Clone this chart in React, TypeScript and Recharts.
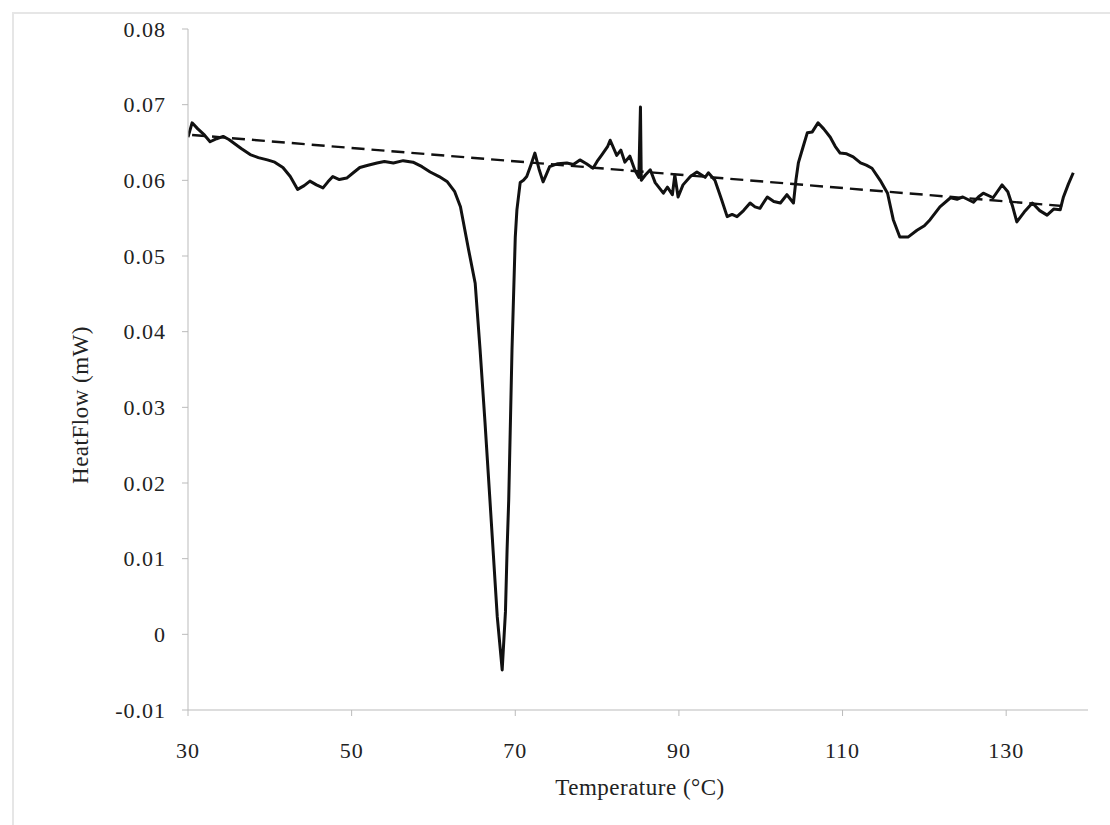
import { Line, LineChart, XAxis, YAxis } from 'recharts';

// DSC trace: temperature (°C) and heat flow (mW)
const temps = [
  30.0, 30.5, 31.2, 32.0, 32.7, 33.5, 34.3, 35.0, 35.5, 36.5, 37.6, 38.6, 39.7, 40.6, 41.6, 42.5, 43.4, 44.2, 44.9, 45.7,
  46.5, 47.1, 47.7, 48.5, 49.4, 50.2, 51.0, 52.0, 53.1, 54.0, 55.1, 56.3, 57.5, 58.6, 59.6, 60.7, 61.7, 62.6, 63.3, 64.3,
  65.1, 65.7, 66.3, 66.9, 67.8, 68.4, 68.8, 69.0, 69.2, 69.6, 70.0, 70.2, 70.6, 71.0, 71.4, 71.9, 72.4, 72.9, 73.4, 73.8,
  74.2, 75.2, 76.3, 77.1, 77.9, 78.7, 79.5, 80.0, 80.6, 81.3, 81.6, 82.4, 82.9, 83.4, 84.0, 84.6, 85.1, 85.3, 85.4, 85.9,
  86.5, 87.1, 88.1, 88.6, 89.2, 89.5, 89.9, 90.5, 91.4, 92.2, 93.2, 93.6, 94.4, 95.2, 95.9, 96.5, 97.1, 97.9, 98.7, 99.3,
  99.9, 100.8, 101.6, 102.4, 103.2, 104.0, 104.3, 104.6, 105.2, 105.7, 106.3, 107.0, 107.7, 108.5, 109.1, 109.7, 110.5, 111.3, 112.2, 112.9,
  113.6, 114.6, 115.5, 116.2, 117.0, 118.0, 119.1, 120.0, 120.7, 121.9, 123.2, 124.0, 124.7, 126.0, 126.6, 127.2, 128.4, 129.5, 130.2, 130.8,
  131.3, 132.2, 133.2, 134.1, 135.0, 135.8, 136.6, 137.0, 137.6, 138.2,
];
const heatFlow = [
  0.0657, 0.0676, 0.0668, 0.066, 0.0651, 0.0655, 0.0658, 0.0654, 0.065, 0.0642, 0.0634, 0.063, 0.0627, 0.0624, 0.0617, 0.0605, 0.0588, 0.0593, 0.0599, 0.0594,
  0.059, 0.0598, 0.0605, 0.0601, 0.0603, 0.061, 0.0617, 0.062, 0.0623, 0.0625, 0.0623, 0.0626, 0.0624, 0.0618, 0.0611, 0.0605, 0.0598, 0.0585, 0.0565, 0.0508,
  0.0464, 0.0376, 0.028, 0.0178, 0.0023, -0.0047, 0.003, 0.0112, 0.0178, 0.0376, 0.0525, 0.0561, 0.0597, 0.06, 0.0605, 0.062, 0.0636, 0.0615, 0.0598, 0.0608,
  0.0618, 0.0622, 0.0623, 0.0621, 0.0627, 0.0622, 0.0616, 0.0625, 0.0634, 0.0645, 0.0653, 0.0633, 0.064, 0.0624, 0.0632, 0.0614, 0.0604, 0.0697, 0.06, 0.0607,
  0.0614, 0.0597, 0.0583, 0.0591, 0.0581, 0.0607, 0.0578, 0.0594, 0.0605, 0.0611, 0.0604, 0.061, 0.06, 0.0575, 0.0552, 0.0555, 0.0552, 0.056, 0.057, 0.0565,
  0.0563, 0.0578, 0.0572, 0.057, 0.0581, 0.057, 0.06, 0.0623, 0.0645, 0.0663, 0.0664, 0.0676, 0.0668, 0.0657, 0.0645, 0.0636, 0.0635, 0.0631, 0.0623, 0.062,
  0.0616, 0.06, 0.0583, 0.0548, 0.0525, 0.0525, 0.0534, 0.054, 0.0548, 0.0565, 0.0577, 0.0575, 0.0578, 0.0571, 0.0578, 0.0583, 0.0577, 0.0594, 0.0585, 0.0565,
  0.0545, 0.0558, 0.057, 0.056, 0.0554, 0.0562, 0.0561, 0.0578, 0.0595, 0.061,
];

// straight baseline drawn under the trace
const baselineTemps = [30.5, 137.0];
const baselineFlow = [0.066, 0.0566];

const xTicks = [30, 50, 70, 90, 110, 130];
const yTicks = [-0.01, 0, 0.01, 0.02, 0.03, 0.04, 0.05, 0.06, 0.07, 0.08];

const trace = temps.map((t, i) => ({ t, hf: heatFlow[i] }));
const baseline = baselineTemps.map((t, i) => ({ t, hf: baselineFlow[i] }));

const font = '"Liberation Serif", "Times New Roman", serif';

const fmtY = (v: number) => (v === 0 ? '0' : v.toFixed(2));

const XTick = (props: any) => (
  <text x={props.x} y={props.y} dy="0.71em" textAnchor="middle" fontFamily={font} fontSize={22} fill="#222" letterSpacing={1}>
    {props.payload.value}
  </text>
);

const YTick = (props: any) => (
  <text x={props.x} y={props.y} dy="0.355em" textAnchor="end" fontFamily={font} fontSize={22} fill="#222" letterSpacing={1}>
    {fmtY(props.payload.value)}
  </text>
);

export default function App() {
  return (
    <div style={{ position: 'absolute', left: 0, top: 0, width: 1110, height: 825, background: '#fff' }}>
      <div
        style={{
          position: 'absolute',
          left: 12,
          top: 12,
          width: 1096,
          height: 830,
          borderTop: '2px solid #e6e6e6',
          borderLeft: '2px solid #e6e6e6',
        }}
      />
      <LineChart
        width={1110}
        height={825}
        data={trace}
        margin={{ top: 29, right: 22, left: 0, bottom: 0 }}
        style={{ position: 'absolute', left: 0, top: 0 }}
      >
        <XAxis
          type="number"
          dataKey="t"
          domain={[30, 140]}
          ticks={xTicks}
          height={115}
          stroke="#bbb"
          tickSize={6}
          tickMargin={26}
          tick={XTick}
          allowDataOverflow
          label={{
            content: () => (
              <text x={640} y={795} textAnchor="middle" fontFamily={font} fontSize={23} fill="#222" letterSpacing={0.5}>
                Temperature (°C)
              </text>
            ),
          }}
        />
        <YAxis
          type="number"
          domain={[-0.01, 0.08]}
          ticks={yTicks}
          width={188}
          stroke="#bbb"
          tickSize={6}
          tickMargin={16}
          tick={YTick}
          allowDataOverflow
          label={{
            content: () => (
              <text
                x={80}
                y={405}
                transform="rotate(-90 80 405)"
                textAnchor="middle"
                dominantBaseline="central"
                fontFamily={font}
                fontSize={23}
                fill="#222"
                letterSpacing={0.5}
              >
                HeatFlow (mW)
              </text>
            ),
          }}
        />
        <Line
          data={baseline}
          dataKey="hf"
          type="linear"
          stroke="#111"
          strokeWidth={2.4}
          strokeDasharray="13 7"
          dot={false}
          isAnimationActive={false}
        />
        <Line
          dataKey="hf"
          type="linear"
          stroke="#111"
          strokeWidth={3}
          strokeLinejoin="round"
          dot={false}
          isAnimationActive={false}
        />
      </LineChart>
    </div>
  );
}
